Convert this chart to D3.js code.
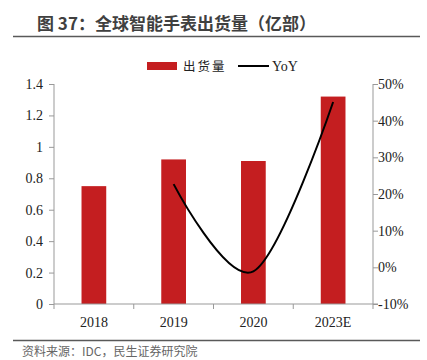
<!DOCTYPE html>
<html>
<head>
<meta charset="utf-8">
<script src="https://cdn.jsdelivr.net/npm/d3@7"></script>
<style>
  body { margin: 0; background: #fff; }
  svg { display: block; }
</style>
</head>
<body>
<div id="chartContainer"></div>
<script>
var years     = ["2018", "2019", "2020", "2023E"];
var shipments = [0.75, 0.92, 0.91, 1.32];
var yoyYears  = ["2019", "2020", "2023E"];
var yoy       = [0.227, -0.011, 0.451];
var leftTicks  = [0, 0.2, 0.4, 0.6, 0.8, 1, 1.2, 1.4];
var rightTicks = [-0.1, 0, 0.1, 0.2, 0.3, 0.4, 0.5];

var W = 427, H = 360;
var margin = {top: 84, right: 54, bottom: 56, left: 54};
var width  = W - margin.left - margin.right,
    height = H - margin.top - margin.bottom;

var serif = "'Liberation Serif', 'Times New Roman', serif";
var sans  = "'Noto Sans CJK SC', 'Noto Sans', sans-serif";

var svg = d3.select("#chartContainer")
  .append("svg")
    .attr("width", W)
    .attr("height", H);

// title
svg.append("text")
  .attr("x", 37).attr("y", 30)
  .attr("font-family", sans)
  .attr("font-size", 17)
  .attr("font-weight", "bold")
  .attr("fill", "#404040")
  .text("图 37：全球智能手表出货量（亿部）");
svg.append("line")
  .attr("x1", 13).attr("x2", 420).attr("y1", 36.5).attr("y2", 36.5)
  .attr("stroke", "#595959").attr("stroke-width", 1.5);

// legend
var lg = svg.append("g");
lg.append("rect").attr("x", 147).attr("y", 62).attr("width", 30).attr("height", 8).attr("fill", "#C41E20");
lg.append("text").attr("x", 183).attr("y", 71).attr("font-family", sans).attr("font-size", 12.5)
  .attr("fill", "#222").attr("letter-spacing", 2).text("出货量");
lg.append("line").attr("x1", 238).attr("x2", 269).attr("y1", 66).attr("y2", 66)
  .attr("stroke", "#000").attr("stroke-width", 2);
lg.append("text").attr("x", 272).attr("y", 71).attr("font-family", serif).attr("font-size", 14)
  .attr("fill", "#222").text("YoY");

var g = svg.append("g")
  .attr("transform", "translate(" + margin.left + "," + margin.top + ")");

var x = d3.scaleBand().domain(years).range([0, width]).paddingInner(0.69).paddingOuter(0.345);
var xBand = d3.scaleBand().domain(years).range([0, width]);
var y = d3.scaleLinear().domain([0, 1.4]).range([height, 0]);
var y2 = d3.scaleLinear().domain([-0.1, 0.5]).range([height, 0]);

// bars
g.selectAll(".bar")
  .data(years)
  .enter().append("rect")
    .attr("x", function(d) { return x(d); })
    .attr("width", x.bandwidth())
    .attr("y", function(d, i) { return y(shipments[i]); })
    .attr("height", function(d, i) { return height - y(shipments[i]); })
    .attr("fill", "#C41E20");

// left axis
var axL = g.append("g")
  .call(d3.axisLeft(y).tickValues(leftTicks).tickSize(5).tickPadding(6)
    .tickFormat(function(d) { return d3.format("")(+d.toFixed(1)); }));
// right axis
var axR = g.append("g")
  .attr("transform", "translate(" + width + ",0)")
  .call(d3.axisRight(y2).tickValues(rightTicks).tickSize(5).tickPadding(0)
    .tickFormat(function(d) { return Math.round(d * 100) + "%"; }));
// bottom axis
var axB = g.append("g")
  .attr("transform", "translate(0," + height + ")")
  .call(d3.axisBottom(xBand).tickSize(0).tickPadding(13));
axB.selectAll(".tick").append("line")
  .attr("x1", -xBand.bandwidth() / 2).attr("x2", -xBand.bandwidth() / 2)
  .attr("y1", 0).attr("y2", 5).attr("stroke", "#999");
axB.append("line")
  .attr("x1", width).attr("x2", width).attr("y1", 0).attr("y2", 5).attr("stroke", "#999");

[axL, axR, axB].forEach(function(a) {
  a.select(".domain").attr("stroke", "#999");
  a.selectAll(".tick line").attr("stroke", "#999");
  a.selectAll("text").attr("font-family", serif).attr("font-size", 14).attr("fill", "#222");
});
axL.select(".domain").attr("d", "M0," + height + "V0");
axR.select(".domain").attr("d", "M0," + height + "V0");
axB.select(".domain").attr("d", "M0,0H" + (width + 5));

// YoY line
g.append("path")
  .datum(yoy)
  .attr("fill", "none")
  .attr("stroke", "#000")
  .attr("stroke-width", 2)
  .attr("d", d3.line()
    .x(function(d, i) { return xBand(yoyYears[i]) + xBand.bandwidth() / 2; })
    .y(function(d) { return y2(d); })
    .curve(d3.curveCardinal.tension(0)));

// source
svg.append("line")
  .attr("x1", 13).attr("x2", 420).attr("y1", 340.5).attr("y2", 340.5)
  .attr("stroke", "#595959").attr("stroke-width", 1.5);
svg.append("text")
  .attr("x", 22).attr("y", 356)
  .attr("font-family", sans)
  .attr("font-size", 12)
  .attr("fill", "#666")
  .text("资料来源：IDC，民生证券研究院");
</script>
</body>
</html>
